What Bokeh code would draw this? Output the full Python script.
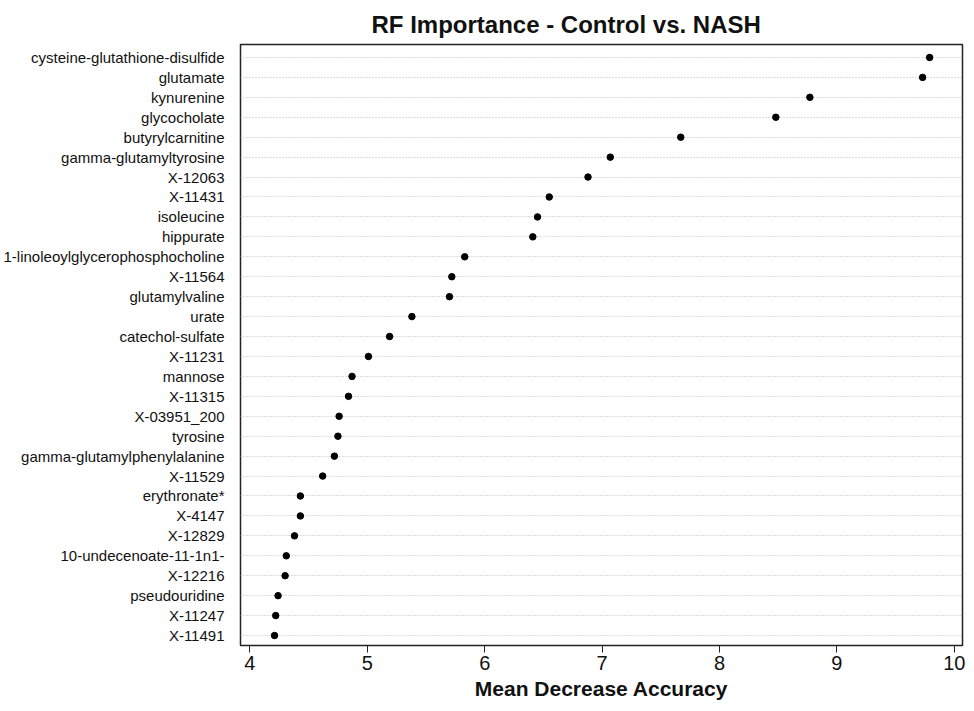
from bokeh.plotting import figure
from bokeh.models import Range1d, FixedTicker, Title, ColumnDataSource
from bokeh.embed import file_html
from bokeh.resources import INLINE

# data (top to bottom as in chart)
metabolites = [
    "cysteine-glutathione-disulfide", "glutamate", "kynurenine", "glycocholate",
    "butyrylcarnitine", "gamma-glutamyltyrosine", "X-12063", "X-11431",
    "isoleucine", "hippurate", "1-linoleoylglycerophosphocholine", "X-11564",
    "glutamylvaline", "urate", "catechol-sulfate", "X-11231", "mannose",
    "X-11315", "X-03951_200", "tyrosine", "gamma-glutamylphenylalanine",
    "X-11529", "erythronate*", "X-4147", "X-12829", "10-undecenoate-11-1n1-",
    "X-12216", "pseudouridine", "X-11247", "X-11491",
]
mda = [
    9.79, 9.73, 8.77, 8.48, 7.67, 7.07, 6.88, 6.55, 6.45, 6.41,
    5.83, 5.72, 5.70, 5.38, 5.19, 5.01, 4.87, 4.84, 4.76, 4.75,
    4.72, 4.62, 4.43, 4.43, 4.38, 4.31, 4.30, 4.24, 4.22, 4.21,
]
x_ticks = [4, 5, 6, 7, 8, 9, 10]

n = len(metabolites)
ypos = [n - 1 - i for i in range(n)]
src = ColumnDataSource(dict(x=mda, y=ypos, name=metabolites))

FONT = "Liberation Sans"

p = figure(
    frame_width=722, frame_height=601,
    x_range=Range1d(3.92, 10.07), y_range=Range1d(-0.5, n - 0.35),
    output_backend="svg", toolbar_location=None,
    min_border_left=240, min_border_right=7, min_border_top=44, min_border_bottom=50,
    background_fill_color="white", border_fill_color="white",
)
p.title = None
t = Title(text="RF Importance - Control vs. NASH", align="left", offset=131,
          text_font=FONT, text_font_size="24px", text_font_style="bold",
          text_color="#111111", standoff=14)
p.add_layout(t, "above")

p.outline_line_color = "#222222"
p.outline_line_width = 1.5

p.scatter("x", "y", source=src, size=6.5, color="black")

# y axis: metabolite labels
p.yaxis.ticker = FixedTicker(ticks=ypos)
p.yaxis.major_label_overrides = {yy: nm for yy, nm in zip(ypos, metabolites)}
p.yaxis.major_tick_line_color = None
p.yaxis.minor_tick_line_color = None
p.yaxis.axis_line_color = None
p.yaxis.major_label_standoff = 10
p.yaxis.major_label_text_font = FONT
p.yaxis.major_label_text_font_size = "15px"
p.yaxis.major_label_text_color = "#111111"

# x axis
p.xaxis.ticker = FixedTicker(ticks=x_ticks)
p.xaxis.axis_line_color = None
p.xaxis.major_tick_out = 7
p.xaxis.major_tick_in = 0
p.xaxis.major_tick_line_color = "#222222"
p.xaxis.minor_tick_line_color = None
p.xaxis.major_label_text_font = FONT
p.xaxis.major_label_text_font_size = "20px"
p.xaxis.major_label_text_color = "#111111"
p.xaxis.major_label_standoff = 3
p.xaxis.axis_label = "Mean Decrease Accuracy"
p.xaxis.axis_label_text_font = FONT
p.xaxis.axis_label_text_font_size = "21px"
p.xaxis.axis_label_text_font_style = "bold"
p.xaxis.axis_label_text_color = "#111111"
p.xaxis.axis_label_standoff = 4

p.xgrid.grid_line_color = None
p.ygrid.ticker = FixedTicker(ticks=ypos)
p.ygrid.grid_line_color = "#bdbdbd"
p.ygrid.grid_line_dash = "1 2"
p.ygrid.grid_line_width = 1

open("out.html", "w").write(file_html(p, INLINE))
